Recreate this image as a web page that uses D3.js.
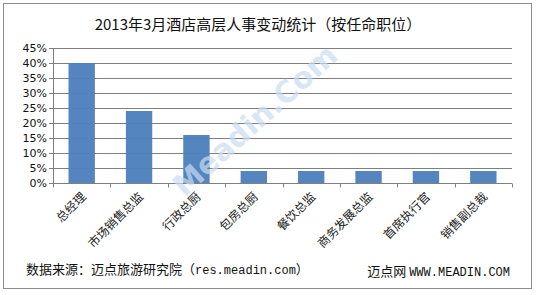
<!DOCTYPE html>
<html>
<head>
<meta charset="utf-8">
<script src="https://cdn.jsdelivr.net/npm/d3@7"></script>
<style>
body{margin:0;background:#fff;}
text{font-family:"Noto Sans CJK SC","DejaVu Sans",sans-serif;}
</style>
</head>
<body>
<svg id="chart"></svg>
<script>
var categories = ["总经理","市场销售总监","行政总厨","包房总厨","餐饮总监","商务发展总监","首席执行官","销售副总裁"];
var values = [40,24,16,4,4,4,4,4];
var yTicks = [0,5,10,15,20,25,30,35,40,45];

var screen = {width:536, height:295};
var margins = {top:48, left:53, right:24, bottom:112};
var graph = {
    width:screen.width-margins.left-margins.right,
    height:screen.height-margins.top-margins.bottom
};

var svg = d3.select("#chart")
    .attr("width",screen.width)
    .attr("height",screen.height);

// outer frame
svg.append("rect")
    .attr("x",3.5).attr("y",3.5)
    .attr("width",528).attr("height",285)
    .style("fill","#fff")
    .style("stroke","#8c8c8c");

svg.append("text")
    .attr("x",258).attr("y",30)
    .attr("text-anchor","middle")
    .style("font-size","15px")
    .style("fill","#111")
    .text("2013年3月酒店高层人事变动统计（按任命职位）");

var xScale = d3.scaleBand()
    .domain(categories)
    .range([0,graph.width])
    .paddingInner(0.54)
    .paddingOuter(0.27);

var yScale = d3.scaleLinear()
    .domain([0,45])
    .range([graph.height,0]);

var g = svg.append("g")
    .attr("transform","translate("+margins.left+","+margins.top+")");

// gridlines
g.selectAll(".grid")
    .data(yTicks)
    .enter()
    .append("line")
    .attr("x1",0).attr("x2",graph.width)
    .attr("y1",function(d){return Math.round(yScale(d))+0.5;})
    .attr("y2",function(d){return Math.round(yScale(d))+0.5;})
    .style("stroke","#7f7f7f");

// watermark
svg.append("text")
    .attr("transform","translate(262,128) rotate(-42)")
    .attr("text-anchor","middle")
    .style("font-family","'DejaVu Sans',sans-serif")
    .style("font-size","30px")
    .style("font-weight","bold")
    .style("fill","#c9dcf2")
    .style("opacity",0.7)
    .text("Meadin.Com");

g.selectAll("rect.bar")
    .data(values)
    .enter()
    .append("rect")
    .classed("bar",true)
    .attr("x",function(d,i){return xScale(categories[i]);})
    .attr("y",function(d){return yScale(d);})
    .attr("width",xScale.bandwidth())
    .attr("height",function(d){return graph.height-yScale(d);})
    .style("fill","#4f81bd")
    .style("opacity",0.97);

// y axis
var yAxis = d3.axisLeft(yScale)
    .tickValues(yTicks)
    .tickSize(4)
    .tickFormat(function(d){return d+"%";});
var ya = g.append("g").call(yAxis);
ya.select(".domain").style("stroke","#7f7f7f");
ya.selectAll(".tick line").style("stroke","#7f7f7f");
ya.selectAll(".tick text")
    .attr("x",-6)
    .style("font-family","'DejaVu Sans',sans-serif")
    .style("font-size","11px")
    .style("fill","#111");

// x axis: ticks between categories
var xa = g.append("g")
    .attr("transform","translate(0,"+(graph.height+0.5)+")");
xa.append("line")
    .attr("x1",0).attr("x2",graph.width)
    .style("stroke","#7f7f7f");
xa.selectAll(".xt")
    .data(d3.range(categories.length+1))
    .enter()
    .append("line")
    .attr("x1",function(i){return Math.round(i*graph.width/categories.length)+0.5;})
    .attr("x2",function(i){return Math.round(i*graph.width/categories.length)+0.5;})
    .attr("y1",0).attr("y2",4)
    .style("stroke","#7f7f7f");

xa.selectAll(".xl")
    .data(categories)
    .enter()
    .append("text")
    .attr("text-anchor","end")
    .attr("transform",function(d){
        var cx = xScale(d)+xScale.bandwidth()/2+5;
        return "translate("+cx+",14) rotate(-45)";
    })
    .style("font-size","12px")
    .style("fill","#222")
    .text(function(d){return d;});

// footer
var src = svg.append("text")
    .attr("x",26).attr("y",274)
    .style("font-size","13px")
    .style("fill","#111");
src.append("tspan").text("数据来源：迈点旅游研究院（");
src.append("tspan").style("font-family","'Liberation Mono',monospace").style("font-size","12px").text("res.meadin.com");
src.append("tspan").text("）");

var brand = svg.append("text")
    .attr("x",510).attr("y",276)
    .attr("text-anchor","end")
    .style("font-size","13px")
    .style("fill","#111");
brand.append("tspan").text("迈点网 ");
brand.append("tspan").style("font-family","'Liberation Mono',monospace").style("font-size","12px").text("WWW.MEADIN.COM");
</script>
</body>
</html>
